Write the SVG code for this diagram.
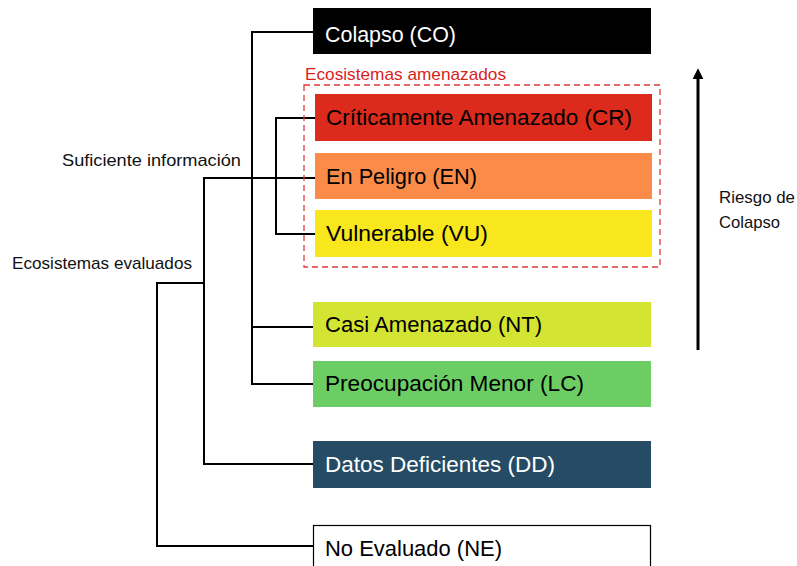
<svg xmlns="http://www.w3.org/2000/svg" width="797" height="566" viewBox="0 0 797 566">
<style>
  .lbl{font-family:"Liberation Sans",Arial,sans-serif;font-size:21.5px;fill:#000}
  .w{fill:#fff}
  .sm{font-family:"Liberation Sans",Arial,sans-serif;font-size:17px;fill:#111}
  .red{fill:#d8231c}
  .conn{fill:none;stroke:#000;stroke-width:2}
</style>
<defs>
  <marker id="ah" viewBox="0 0 10 10" refX="1" refY="5" markerWidth="3.6" markerHeight="3.6" orient="auto" markerUnits="strokeWidth">
    <path d="M0,0 L10,5 L0,10 Z" fill="#000"/>
  </marker>
</defs>
<rect width="797" height="566" fill="#fff"/>

<g id="connectors">
  <path class="conn" d="M313,32 H252 V384 H313 M252,327 H313"/>
  <path class="conn" d="M315,118 H276 V234 H315"/>
  <path class="conn" d="M315,178 H204 V464 H313 M204,283 H157 V546 H313"/>
</g>

<g id="threat-group">
  <rect x="304" y="85" width="356" height="182" fill="none" stroke="#e03a3a" stroke-width="1.3" stroke-dasharray="6,4"/>
  <text class="sm red" x="305" y="80" textLength="201" lengthAdjust="spacingAndGlyphs">Ecosistemas amenazados</text>
</g>

<g id="CO"><rect x="313" y="8" width="338" height="46" fill="#000"/><text class="lbl w" x="325" y="42" textLength="131" lengthAdjust="spacingAndGlyphs">Colapso (CO)</text></g>
<g id="CR"><rect x="315" y="94" width="337" height="47" fill="#dc2a1c"/><text class="lbl" x="326" y="125" textLength="306" lengthAdjust="spacingAndGlyphs">Críticamente Amenazado (CR)</text></g>
<g id="EN"><rect x="315" y="153" width="337" height="46" fill="#fb8b48"/><text class="lbl" x="326" y="184" textLength="151" lengthAdjust="spacingAndGlyphs">En Peligro (EN)</text></g>
<g id="VU"><rect x="315" y="210" width="337" height="47" fill="#f8e71c"/><text class="lbl" x="326" y="241" textLength="162" lengthAdjust="spacingAndGlyphs">Vulnerable (VU)</text></g>
<g id="NT"><rect x="313" y="302" width="338" height="45" fill="#d4e432"/><text class="lbl" x="325" y="332" textLength="217" lengthAdjust="spacingAndGlyphs">Casi Amenazado (NT)</text></g>
<g id="LC"><rect x="313" y="361" width="338" height="46" fill="#6dcd65"/><text class="lbl" x="325" y="391" textLength="259" lengthAdjust="spacingAndGlyphs">Preocupación Menor (LC)</text></g>
<g id="DD"><rect x="313" y="441" width="338" height="47" fill="#264b64"/><text class="lbl w" x="325" y="472" textLength="230" lengthAdjust="spacingAndGlyphs">Datos Deficientes (DD)</text></g>
<g id="NE"><rect x="313.5" y="525.5" width="337" height="60" fill="#fff" stroke="#000" stroke-width="1.2"/><text class="lbl" x="325" y="556" textLength="177" lengthAdjust="spacingAndGlyphs">No Evaluado (NE)</text></g>

<g id="labels">
  <text class="sm" x="62" y="166" textLength="179" lengthAdjust="spacingAndGlyphs">Suficiente información</text>
  <text class="sm" x="12" y="269" textLength="180" lengthAdjust="spacingAndGlyphs">Ecosistemas evaluados</text>
</g>

<g id="risk-arrow">
  <line x1="698" y1="350" x2="698" y2="78" stroke="#000" stroke-width="3" marker-end="url(#ah)"/>
  <text class="sm" x="719" y="203" textLength="76" lengthAdjust="spacingAndGlyphs">Riesgo de</text>
  <text class="sm" x="719" y="228" textLength="61" lengthAdjust="spacingAndGlyphs">Colapso</text>
</g>
</svg>
